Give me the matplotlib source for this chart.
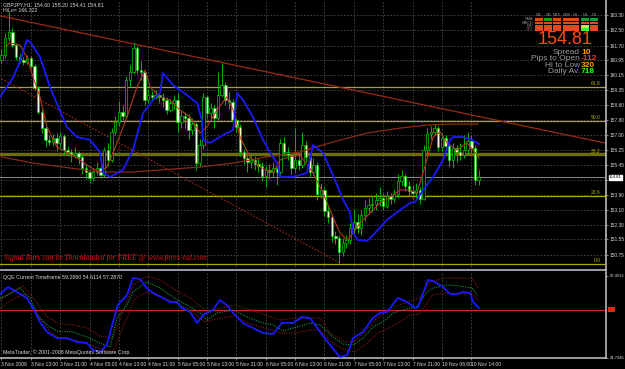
import matplotlib
matplotlib.use("Agg")
import matplotlib.pyplot as plt
from matplotlib.patches import Rectangle

# ---- price data (GBPJPY H1), bar index 0..130 ----
first_open = 160.95
closes = [161.21, 162.10, 162.41, 161.73, 161.10, 160.94, 160.84, 161.05, 160.63, 159.48,
          158.22, 157.38, 156.76, 156.65, 156.86, 156.60, 156.97, 156.23, 156.13, 155.97,
          156.08, 155.87, 155.29, 155.08, 154.77, 155.08, 155.29, 154.92, 156.23, 155.71,
          157.18, 157.70, 158.22, 158.01, 159.90, 160.32, 161.57, 160.42, 160.32, 158.85,
          159.11, 159.01, 159.11, 159.01, 158.85, 158.33, 158.69, 158.85, 157.70, 158.01,
          157.91, 157.28, 157.59, 155.55, 156.49, 159.01, 158.17, 158.43, 157.91, 159.11,
          159.64, 158.85, 158.75, 157.80, 157.44, 156.13, 155.81, 155.60, 155.71, 155.50,
          155.40, 154.87, 155.19, 155.08, 155.29, 155.08, 156.60, 156.13, 155.97, 155.29,
          155.71, 155.45, 156.49, 155.87, 155.08, 155.45, 153.93, 154.14, 153.04, 152.73,
          151.73, 151.63, 150.89, 151.36, 151.52, 152.15, 152.46, 152.15, 152.83, 153.20,
          153.35, 153.41, 153.62, 153.72, 153.30, 153.82, 153.67, 153.93, 154.61, 154.87,
          154.35, 154.09, 153.98, 154.14, 153.67, 156.23, 157.07, 157.18, 157.38, 156.39,
          156.86, 156.44, 155.71, 156.34, 156.13, 155.97, 156.23, 156.70, 156.34, 154.66,
          154.81]
highs = [161.50, 162.35, 163.46, 162.60, 161.85, 161.25, 161.10, 161.20, 161.15, 160.75,
         159.60, 158.40, 157.50, 157.00, 157.05, 157.10, 157.20, 157.05, 156.45, 156.30,
         156.40, 156.20, 156.00, 155.50, 155.20, 155.30, 155.60, 155.45, 156.40, 156.60,
         157.40, 158.00, 158.80, 158.60, 160.10, 160.70, 161.83, 161.70, 160.90, 160.40,
         159.40, 159.30, 159.35, 159.25, 159.20, 159.00, 158.90, 159.10, 159.20, 158.30,
         158.20, 158.10, 157.90, 157.70, 156.80, 159.20, 159.10, 158.70, 158.60, 160.30,
         160.79, 159.80, 159.30, 158.90, 157.90, 157.60, 156.30, 156.00, 156.00, 155.90,
         155.80, 155.60, 155.40, 155.50, 155.60, 155.50, 156.80, 156.90, 156.40, 156.10,
         157.40, 156.00, 157.20, 156.70, 156.00, 155.80, 155.60, 154.50, 154.30, 153.30,
         152.90, 152.00, 151.80, 151.60, 151.80, 152.40, 153.10, 152.90, 153.10, 153.60,
         153.70, 153.80, 154.00, 154.30, 154.00, 154.10, 154.00, 154.20, 155.00, 155.20,
         155.00, 154.60, 154.40, 154.50, 154.30, 156.50, 157.40, 157.50, 157.60, 157.50,
         157.10, 157.00, 156.60, 156.60, 156.50, 156.60, 157.00, 157.20, 157.00, 156.50,
         155.20]
lows = [160.80, 161.05, 161.95, 161.60, 160.95, 160.80, 160.70, 160.75, 160.50, 159.35,
        158.10, 157.10, 156.40, 156.50, 156.45, 156.20, 156.40, 156.00, 155.90, 155.60,
        155.80, 155.50, 155.00, 154.70, 154.55, 154.60, 154.90, 154.75, 154.80, 155.40,
        155.60, 157.00, 157.50, 157.80, 157.90, 159.60, 160.20, 160.20, 159.90, 158.60,
        158.70, 158.80, 158.90, 158.70, 158.50, 158.10, 158.20, 158.40, 157.20, 157.40,
        157.40, 156.80, 157.00, 155.20, 155.40, 156.30, 157.90, 157.90, 157.40, 157.80,
        159.00, 158.60, 158.40, 157.50, 157.20, 155.90, 155.50, 155.10, 155.30, 155.20,
        155.10, 154.60, 154.30, 154.70, 154.80, 154.40, 154.90, 155.90, 155.70, 155.00,
        155.10, 155.20, 155.30, 155.60, 154.80, 154.90, 153.60, 153.70, 152.80, 152.40,
        151.40, 151.30, 150.32, 150.70, 151.10, 151.30, 151.90, 151.90, 151.80, 152.50,
        152.90, 153.00, 153.10, 153.30, 153.10, 153.20, 153.40, 153.50, 153.70, 154.40,
        154.10, 153.80, 153.70, 153.60, 153.40, 153.60, 155.90, 156.80, 157.00, 156.20,
        156.20, 156.10, 155.40, 155.30, 155.60, 155.70, 155.80, 156.00, 156.10, 154.40,
        154.41]
opens = [first_open] + closes[:-1]

# overlay lines (bar index, price)
blue_x = [-0.4, 3.1, 5.0, 6.9, 7.8, 10.5, 13.2, 17.8, 20.6, 24.1, 26.8, 27.7, 29.6, 33.1,
          35.8, 38.6, 41.3, 43.2, 44.0, 46.7, 50.5, 53.3, 54.6, 54.9, 56.8, 60.4, 63.1,
          64.2, 65.8, 68.5, 71.3, 73.2, 75.1, 75.9, 79.4, 83.2, 84.9, 87.6, 90.3, 93.1,
          95.0, 95.8, 97.1, 99.6, 101.8, 105.0, 108.6, 111.3, 112.7, 114.9, 117.6, 120.3,
          122.2, 123.0, 125.7, 128.2, 130.1]
blue_y = [159.01, 160.00, 160.84, 161.99, 161.89, 161.10, 159.53, 157.44, 156.91, 156.76,
          156.13, 155.08, 154.82, 155.19, 156.23, 158.17, 158.85, 159.22, 160.26, 159.64,
          159.11, 158.69, 157.80, 156.76, 156.60, 157.02, 157.28, 159.22, 158.85, 157.96,
          156.76, 156.08, 155.55, 154.82, 154.82, 155.03, 156.49, 156.08, 154.92, 153.62,
          152.93, 151.89, 151.52, 151.47, 151.89, 152.57, 153.09, 153.46, 153.51, 154.14,
          154.82, 155.71, 156.76, 156.91, 156.91, 156.76, 156.55]

fast_x = [0.9, 2.3, 5.0, 6.9, 8.6, 10.5, 12.4, 15.1, 17.8, 21.4, 24.1, 26.8, 28.7, 31.5,
          34.2, 36.9, 39.1, 40.5, 43.2, 45.9, 48.6, 51.4, 54.1, 56.0, 58.7, 61.4, 63.1,
          65.0, 67.7, 70.4, 74.0, 75.9, 78.6, 81.3, 84.9, 87.6, 90.3, 92.2, 94.2, 95.8,
          97.7, 100.4, 103.1, 105.9, 108.6, 111.3, 113.2, 115.9, 117.6, 119.5, 121.4,
          124.1, 126.8, 128.5, 130.1]
fast_y = [161.63, 161.84, 161.73, 161.10, 160.05, 159.01, 157.44, 156.39, 156.13, 155.71,
          155.34, 155.08, 155.34, 156.60, 157.96, 159.53, 160.42, 159.53, 159.01, 158.85,
          158.33, 157.96, 157.12, 157.44, 158.33, 159.01, 158.33, 156.91, 155.87, 155.34,
          155.03, 155.71, 155.87, 155.97, 155.03, 153.98, 152.73, 151.89, 151.52, 151.89,
          152.41, 152.93, 153.46, 153.77, 154.14, 154.14, 153.98, 155.71, 156.91, 157.18,
          156.60, 156.23, 156.60, 156.23, 155.81]

slow_x = [0, 8.6, 26.8, 35.8, 54.1, 63.1, 72.3, 81.3, 90.3, 99.6, 108.6, 115.9, 122.2, 129.8]
slow_y = [155.87, 155.55, 155.08, 155.08, 155.34, 155.55, 155.87, 156.13, 156.65, 157.12,
          157.38, 157.54, 157.59, 157.59]

trend_pts = [(0, 163.24), (130, 157.99)]
diag_pts = [(0, 159.96), (92.2, 150.32)]
fib_low, fib_high = 150.28, 165.25
fib_levels = [0.0, 23.6, 38.2, 50.0, 61.8]

price_ticks = [163.30, 162.50, 161.70, 160.95, 160.15, 159.35, 158.60, 157.80, 157.00,
               156.25, 155.45, 154.65, 153.90, 153.10, 152.30, 151.55, 150.75]
last_price = 154.81

# ---- QQE indicator ----
qqe_x = [-0.4, 1.8, 4.2, 6.9, 8.6, 10.5, 12.4, 15.1, 17.8, 20.6, 23.3, 24.9, 26.8, 28.7,
         30.4, 31.7, 34.2, 35.8, 37.7, 39.6, 41.3, 44.0, 45.9, 47.8, 49.2, 51.4, 53.3,
         54.9, 57.6, 59.5, 61.4, 63.1, 65.8, 68.5, 71.3, 74.0, 76.4, 79.4, 81.9, 84.1,
         86.8, 89.5, 92.2, 94.2, 95.8, 98.5, 101.2, 103.1, 105.0, 108.0, 110.5, 112.7,
         113.5, 116.2, 117.6, 120.3, 122.2, 124.1, 125.7, 127.7, 128.5, 130.1]
qqe_y = [58.08, 61.72, 59.12, 55.98, 50.79, 43.50, 38.30, 35.17, 35.17, 33.09, 32.57, 28.93,
         27.89, 31.53, 43.50, 52.35, 57.56, 66.41, 65.89, 61.20, 58.60, 55.98, 53.91, 53.91,
         50.79, 48.71, 42.98, 47.15, 49.75, 54.96, 52.35, 48.19, 42.98, 40.38, 37.78, 37.26,
         42.98, 42.98, 46.10, 45.58, 38.30, 31.53, 25.28, 26.32, 35.17, 38.30, 45.58, 48.19,
         48.71, 55.98, 53.91, 50.79, 51.31, 65.37, 64.85, 61.72, 58.08, 58.08, 59.12, 58.60,
         53.91, 50.79]

slowqqe_x = [-0.4, 2.3, 5.0, 7.8, 9.7, 12.4, 15.1, 19.5, 23.3, 26.8, 29.6, 31.5, 34.2, 35.8,
             39.6, 43.2, 46.7, 50.5, 54.1, 56.0, 58.7, 63.1, 66.9, 70.4, 74.0, 76.7, 80.5,
             84.1, 86.8, 90.3, 93.1, 95.8, 98.5, 101.2, 103.9, 106.7, 111.3, 113.2, 115.9,
             117.6, 121.4, 124.9, 128.2, 129.6]
slowqqe_y = [55.98, 58.08, 61.20, 55.98, 47.15, 41.94, 38.82, 38.30, 35.69, 32.57, 30.49,
             45.58, 52.35, 59.12, 64.33, 61.20, 56.52, 52.35, 48.19, 44.54, 48.19, 49.75,
             46.10, 43.50, 41.94, 38.82, 40.90, 42.98, 41.94, 35.69, 32.05, 31.53, 35.17,
             40.90, 43.50, 48.19, 50.79, 51.31, 59.12, 61.20, 62.76, 62.24, 61.20, 57.56]

upper_x = [-0.4, 3.1, 5.9, 9.1, 11.9, 15.1, 19.5, 23.3, 26.8, 30.4, 32.3, 35.8, 39.6, 43.2,
           47.3, 51.4, 54.1, 56.8, 59.5, 63.6, 67.7, 71.8, 75.9, 80.0, 84.1, 86.8, 89.5,
           93.1, 95.8, 99.1, 101.8, 105.9, 111.3, 114.0, 116.8, 120.9, 124.9, 128.2, 129.8]
upper_y = [54.96, 59.64, 62.24, 54.96, 47.15, 42.98, 41.94, 40.38, 36.21, 35.17, 44.54,
           62.76, 67.45, 65.37, 60.16, 55.98, 51.83, 48.71, 50.79, 52.35, 49.75, 47.15,
           44.54, 45.58, 45.58, 45.58, 37.78, 33.61, 33.09, 38.30, 44.54, 50.79, 54.44,
           55.98, 64.33, 66.41, 66.41, 66.41, 61.20]
lower_x = [-0.4, 3.7, 6.4, 10.5, 13.2, 15.9, 20.0, 24.1, 27.7, 30.4, 32.8, 36.4, 39.6, 43.2,
           47.3, 51.4, 55.4, 59.5, 63.6, 67.7, 71.8, 75.9, 80.0, 84.1, 86.8, 90.3, 93.6,
           96.3, 99.1, 102.6, 107.2, 111.3, 114.0, 117.3, 120.9, 124.9, 128.2, 129.8]
lower_y = [50.79, 55.98, 58.08, 45.58, 38.30, 35.17, 34.13, 31.53, 28.93, 27.89, 39.34,
           55.98, 59.12, 57.04, 53.39, 49.75, 43.50, 45.58, 46.63, 42.46, 40.38, 37.78,
           37.78, 39.34, 39.34, 32.57, 28.93, 27.89, 31.53, 37.78, 41.94, 47.15, 47.67,
           57.56, 58.60, 58.08, 58.08, 54.96]

time_labels = ["3 Nov 2008", "3 Nov 13:00", "3 Nov 21:00", "4 Nov 05:00", "4 Nov 13:00",
               "4 Nov 21:00", "5 Nov 05:00", "5 Nov 13:00", "5 Nov 21:00", "6 Nov 05:00",
               "6 Nov 13:00", "6 Nov 21:00", "7 Nov 05:00", "7 Nov 13:00", "7 Nov 21:00",
               "10 Nov 06:00", "10 Nov 14:00"]

W, H = 625, 369
fig = plt.figure(figsize=(W / 100, H / 100), dpi=100, facecolor="black")
plt.rcParams["font.family"] = ["Liberation Sans", "DejaVu Sans"]

ax = fig.add_axes([0, (H - 270) / H, 606 / W, 270 / H], facecolor="black")
ax2 = fig.add_axes([0, (H - 358) / H, 606 / W, 86 / H], facecolor="black")
xlim = (-0.4, 164.7)
grid_kw = dict(color="#4a4a4a", lw=0.6, ls=(0, (2, 2)))
txt_col = "#d8d8d8"
small = 3.4

for a in (ax, ax2):
    a.set_xlim(*xlim)
    for s in ("left", "top"):
        a.spines[s].set_visible(False)
    for s in ("right", "bottom"):
        a.spines[s].set_color("#b8b8b8")
        a.spines[s].set_linewidth(1.2)
    a.yaxis.tick_right()
    a.tick_params(colors="#b8b8b8", labelcolor=txt_col, labelsize=small, length=1.5, width=0.5, pad=1)
    a.set_xticks(range(0, 129, 8))
    for t in range(0, 129, 8):
        a.axvline(t, zorder=0, **grid_kw)

ax.set_ylim(149.95, 164.085)
ax.set_xticklabels([])
ax.tick_params(axis="x", length=0)
ax.set_yticks(price_ticks)
ax.set_yticklabels([f"{p:.2f}" if abs(p - 154.65) > 0.01 else "" for p in price_ticks])
for p in price_ticks:
    ax.axhline(p, zorder=0, **grid_kw)

# fibonacci levels
for lv in fib_levels:
    val = fib_low + (fib_high - fib_low) * lv / 100
    thick = abs(lv - 38.2) < 0.01
    ax.axhline(val, color="#6e6e00" if thick else "#a8a800", lw=2.4 if thick else 0.9, zorder=1)
    ax.text(163.2, val + 0.05, f"{lv:.1f}", color="#b0b000", fontsize=3.6, ha="right", va="bottom")

ax.axhline(last_price, color="#8a8a8a", lw=0.7, zorder=1)

# trend lines
ax.axline(trend_pts[0], trend_pts[1], color="#9c2a18", lw=0.9, zorder=2)
ax.plot([diag_pts[0][0], diag_pts[1][0]], [diag_pts[0][1], diag_pts[1][1]],
        color="#9c2a18", lw=0.8, ls=(0, (1.5, 1.5)), zorder=2)

# candles
xs = list(range(len(closes)))
ax.vlines(xs, lows, highs, color="#00b400", lw=0.7, zorder=3)
for i in xs:
    o, c = opens[i], closes[i]
    bot, h = min(o, c), max(abs(c - o), 0.02)
    bull = c >= o
    ax.add_patch(Rectangle((i - 0.33, bot), 0.66, h, facecolor="black" if bull else "#eaffd2",
                           edgecolor="#00c800", lw=0.5, zorder=4))

ax.plot(slow_x, slow_y, color="#8c2a1a", lw=0.9, zorder=5)
ax.plot(fast_x, fast_y, color="#b03a22", lw=0.8, zorder=5)
ax.plot(blue_x, blue_y, color="#1a1aff", lw=1.3, zorder=6)

# current price box
ax.text(1.005, last_price, f"{last_price:.2f}", transform=ax.get_yaxis_transform(),
        fontsize=3.1, color="black", va="center", ha="left",
        bbox=dict(boxstyle="square,pad=0.08", fc="white", ec="white"))

# indicator panel
ax2.set_ylim(24.76, 69.53)
ax2.set_yticks([67.4532, 24.7646])
ax2.set_yticklabels(["67.4532", "24.7646"], fontsize=3.0)
ax2.axhline(50, color="#c82a1a", lw=0.9, zorder=1)
ax2.add_patch(Rectangle((1.003, 48.6), 0.012, 2.8, transform=ax2.get_yaxis_transform(),
                        facecolor="#e02a10", edgecolor="none", clip_on=False))
ax2.plot(upper_x, upper_y, color="#8a1c10", lw=0.8, ls=(0, (1, 1.2)), zorder=2)
ax2.plot(lower_x, lower_y, color="#8a1c10", lw=0.8, ls=(0, (1, 1.2)), zorder=2)
ax2.plot(slowqqe_x, slowqqe_y, color="#10a040", lw=0.8, ls=(0, (1, 1.2)), zorder=3)
ax2.plot(qqe_x, qqe_y, color="#1a1aff", lw=1.3, zorder=4)
ax2.set_xticklabels(time_labels, ha="left")
ax2.tick_params(axis="x", labelsize=3.6, length=1.5, pad=1.5)

# texts
def ftext(px, py, s, **kw):
    fig.text(px / W, 1 - py / H, s, **kw)

ftext(3, 5, "GBPJPY,H1  154.60 155.20 154.41 154.81", color=txt_col, fontsize=3.8, va="center")
ftext(3, 11, "HiLo= 166.322", color=txt_col, fontsize=3.8, va="center")
ftext(4, 258, "Signal Bars can be Downloaded for FREE @ www.forex-tsd.com", color="#e01010",
      fontsize=5.6, style="italic", family="Liberation Serif", va="center")
ftext(3, 278, "QQE Current Timeframe 59.2860 54.6114 57.2870", color=txt_col, fontsize=3.8, va="center")
ftext(3, 352, "MetaTrader, \u00a9 2001-2008 MetaQuotes Software Corp.", color=txt_col, fontsize=3.8, va="center")

# signal matrix top right
tf_names = ["M1", "M5", "M15", "M30", "H1", "H4", "D1"]
row_names = ["SMA", "MACD", "RSI", "CCI"]
cell_colors = [["r", "g", "r", "r", "r", "g", "g"],
               ["r", "r", "r", "r", "r", "r", "r"],
               ["r", "r", "r", "r", "r", "y", "r"],
               ["r", "r", "r", "r", "r", "l", "r"]]
col_map = {"r": "#e04a20", "g": "#10a030", "y": "#c8e060", "l": "#30ff30"}
col_x = [535, 544, 553, 563, 571, 581, 590]
row_y = [18, 21.5, 25, 28]
for j, name in enumerate(tf_names):
    ftext(col_x[j] + 4, 15, name, color="#909090", fontsize=3.0, ha="center", va="center")
for r, rname in enumerate(row_names):
    ftext(533, row_y[r] + 1.2, rname, color="#909090", fontsize=2.8, ha="right", va="center")
    for j in range(7):
        fig.patches.append(Rectangle((col_x[j] / W, 1 - (row_y[r] + 2.6) / H), 7.5 / W, 2.6 / H,
                                     transform=fig.transFigure, facecolor=col_map[cell_colors[r][j]],
                                     edgecolor="none"))

ftext(565, 39.5, f"{last_price:.2f}", color="#ff4a1a", fontsize=13, ha="center", va="center")
info_rows = [("Spread", "10", "#ff9a00"), ("Pips to Open", "-112", "#ff3a10"),
             ("Hi to Low", "320", "#ffa000"), ("Daily Av.", "718", "#20ff20")]
for k, (lab, val, col) in enumerate(info_rows):
    yy = 52 + k * 6.6
    ftext(580, yy, lab, color="#9a9a9a", fontsize=6, ha="right", va="center")
    ftext(581, yy, val, color=col, fontsize=6, ha="left", va="center", weight="bold")

fig.savefig("out.png", dpi=100, facecolor="black")
